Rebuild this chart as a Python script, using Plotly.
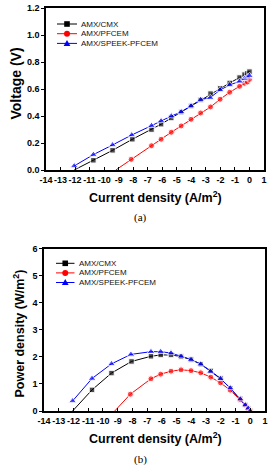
import plotly.graph_objects as go

# ---------------- data ----------------
current_cmx = [-12.06, -10.74, -9.42, -8.06, -6.74, -6.08, -5.38, -4.70, -4.02, -3.36, -2.68, -2.02, -1.36, -0.68, -0.34, -0.14, 0.0]
voltage_cmx = [0.0, 0.072, 0.146, 0.228, 0.300, 0.340, 0.386, 0.430, 0.475, 0.520, 0.567, 0.606, 0.646, 0.686, 0.708, 0.718, 0.730]
power_cmx = [0.0, 0.78, 1.40, 1.83, 2.02, 2.07, 2.07, 2.01, 1.90, 1.73, 1.48, 1.20, 0.84, 0.45, 0.22, 0.10, 0.0]

current_pfcem = [-9.20, -8.14, -6.74, -6.08, -5.38, -4.70, -4.02, -3.36, -2.68, -2.02, -1.36, -0.68, -0.34, -0.14, 0.0]
voltage_pfcem = [0.0, 0.079, 0.180, 0.228, 0.280, 0.327, 0.376, 0.423, 0.468, 0.525, 0.577, 0.621, 0.644, 0.653, 0.673]
power_pfcem = [0.0, 0.62, 1.19, 1.36, 1.47, 1.52, 1.49, 1.41, 1.25, 1.04, 0.77, 0.42, 0.22, 0.09, 0.0]

current_speek = [-12.06, -10.74, -9.42, -8.10, -6.74, -6.08, -5.38, -4.70, -4.02, -3.36, -2.70, -2.02, -1.36, -0.68, -0.34, -0.14, 0.0]
voltage_speek = [0.030, 0.114, 0.186, 0.260, 0.329, 0.364, 0.400, 0.431, 0.475, 0.522, 0.537, 0.594, 0.631, 0.658, 0.678, 0.690, 0.700]
power_speek = [0.37, 1.20, 1.74, 2.09, 2.19, 2.19, 2.14, 2.02, 1.90, 1.73, 1.46, 1.19, 0.85, 0.44, 0.22, 0.10, 0.0]

series_names = ["AMX/CMX", "AMX/PFCEM", "AMX/SPEEK-PFCEM"]
x_ticks = list(range(-14, 2))
x_ticktext = [str(v) for v in x_ticks]
v_ticks = [0.0, 0.2, 0.4, 0.6, 0.8, 1.0, 1.2]
p_ticks = [0, 1, 2, 3, 4, 5, 6]

# ---------------- styling ----------------
W, H = 268, 465
colors = ["#000000", "#ff0000", "#0000ff"]
symbols = ["square", "circle", "triangle-up"]
msizes = [5.5, 6, 7]
SANS = "Liberation Sans"
SERIF = "Liberation Serif"

def fx(p):
    return p / W

def fy(p):
    return 1 - p / H

series = [
    (current_cmx, voltage_cmx, power_cmx),
    (current_pfcem, voltage_pfcem, power_pfcem),
    (current_speek, voltage_speek, power_speek),
]

fig = go.Figure()

def sizes_for(y, s):
    # no visible marker on the starting point sitting on the zero axis
    return [0 if (i == 0 and v == 0) else s for i, v in enumerate(y)]

for i, (cx, vy, py) in enumerate(series):
    fig.add_trace(go.Scatter(
        x=cx, y=vy, mode="lines+markers", name=series_names[i],
        line=dict(color=colors[i], width=1),
        marker=dict(symbol=symbols[i], color=colors[i], size=sizes_for(vy, msizes[i])),
        xaxis="x", yaxis="y", showlegend=False))
for i, (cx, vy, py) in enumerate(series):
    fig.add_trace(go.Scatter(
        x=cx, y=py, mode="lines+markers", name=series_names[i],
        line=dict(color=colors[i], width=1),
        marker=dict(symbol=symbols[i], color=colors[i], size=sizes_for(py, msizes[i])),
        xaxis="x2", yaxis="y2", showlegend=False))

# ---------------- manual legends (shapes + annotations, pixel placed) ----------------
legend_specs = [
    # (line x0, line x1, first row y, row step, text x)
    (57.0, 77.0, 24.0, 9.7, 79.0),
    (56.0, 74.5, 263.3, 9.6, 76.7),
]
shapes = []
for (lx0, lx1, ly0, step, tx) in legend_specs:
    cxm = (lx0 + lx1) / 2
    for i in range(3):
        yy = ly0 + i * step
        shapes.append(dict(type="line", xref="paper", yref="paper",
                           x0=fx(lx0), x1=fx(lx1), y0=fy(yy), y1=fy(yy),
                           line=dict(color=colors[i], width=1)))
        if i == 0:
            r = 2.8
            shapes.append(dict(type="rect", xref="paper", yref="paper",
                               x0=fx(cxm - r), x1=fx(cxm + r), y0=fy(yy + r), y1=fy(yy - r),
                               fillcolor=colors[i], line=dict(width=0)))
        elif i == 1:
            r = 3.0
            shapes.append(dict(type="circle", xref="paper", yref="paper",
                               x0=fx(cxm - r), x1=fx(cxm + r), y0=fy(yy + r), y1=fy(yy - r),
                               fillcolor=colors[i], line=dict(width=0)))
        else:
            path = "M {} {} L {} {} L {} {} Z".format(
                fx(cxm - 3.4), fy(yy + 2.6), fx(cxm + 3.4), fy(yy + 2.6), fx(cxm), fy(yy - 3.4))
            shapes.append(dict(type="path", xref="paper", yref="paper", path=path,
                               fillcolor=colors[i], line=dict(width=0)))
        fig.add_annotation(x=fx(tx), y=fy(yy), xref="paper", yref="paper",
                           text=series_names[i], showarrow=False, xanchor="left", yanchor="middle",
                           font=dict(family=SANS, size=8, color="#111111"))

tickfont = dict(family=SANS, size=9, color="black", weight="bold")
axis_common = dict(showline=True, mirror=True, linecolor="black", linewidth=1.5,
                   showgrid=False, zeroline=False, automargin=False,
                   tickcolor="black", tickwidth=1.2, ticklen=3, tickfont=tickfont)

fig.update_layout(
    width=W, height=H,
    margin=dict(l=0, r=0, t=0, b=0),
    paper_bgcolor="white", plot_bgcolor="white",
    shapes=shapes,
    showlegend=False,
)
fig.update_layout(
    xaxis=dict(domain=[fx(46), fx(264)], range=[-14, 1], tickmode="array", tickvals=x_ticks,
               ticktext=x_ticktext, ticks="inside", tickangle=0, anchor="y", **axis_common),
    yaxis=dict(domain=[fy(170), fy(8.3)], range=[0, 1.2], tickmode="array", tickvals=v_ticks,
               tickformat=".1f", ticks="outside", anchor="x", **axis_common),
    xaxis2=dict(domain=[fx(44), fx(265)], range=[-14, 1], tickmode="array", tickvals=x_ticks,
                ticktext=x_ticktext, ticks="inside", tickangle=0, anchor="y2", **axis_common),
    yaxis2=dict(domain=[fy(411), fy(248.5)], range=[0, 6], tickmode="array", tickvals=p_ticks,
                ticks="outside", anchor="x2", **axis_common),
)

title_font = dict(family=SANS, size=12.5, color="black", weight="bold")
fig.add_annotation(x=fx(155), y=fy(197), xref="paper", yref="paper", showarrow=False,
                   text="Current density (A/m<sup>2</sup>)", xanchor="center", yanchor="middle", font=title_font)
fig.add_annotation(x=fx(155), y=fy(438), xref="paper", yref="paper", showarrow=False,
                   text="Current density (A/m<sup>2</sup>)", xanchor="center", yanchor="middle", font=title_font)
fig.add_annotation(x=fx(15.5), y=fy(84), xref="paper", yref="paper", showarrow=False, textangle=-90,
                   text="Voltage (V)", xanchor="center", yanchor="middle",
                   font=dict(family=SANS, size=14, color="black", weight="bold"))
fig.add_annotation(x=fx(18.5), y=fy(334), xref="paper", yref="paper", showarrow=False, textangle=-90,
                   text="Power density (W/m<sup>2</sup>)", xanchor="center", yanchor="middle", font=title_font)
fig.add_annotation(x=fx(140), y=fy(217), xref="paper", yref="paper", showarrow=False,
                   text="(a)", xanchor="center", yanchor="middle",
                   font=dict(family=SERIF, size=11, color="black"))
fig.add_annotation(x=fx(140), y=fy(459), xref="paper", yref="paper", showarrow=False,
                   text="(b)", xanchor="center", yanchor="middle",
                   font=dict(family=SERIF, size=11, color="black"))

fig.write_html("out.html")
